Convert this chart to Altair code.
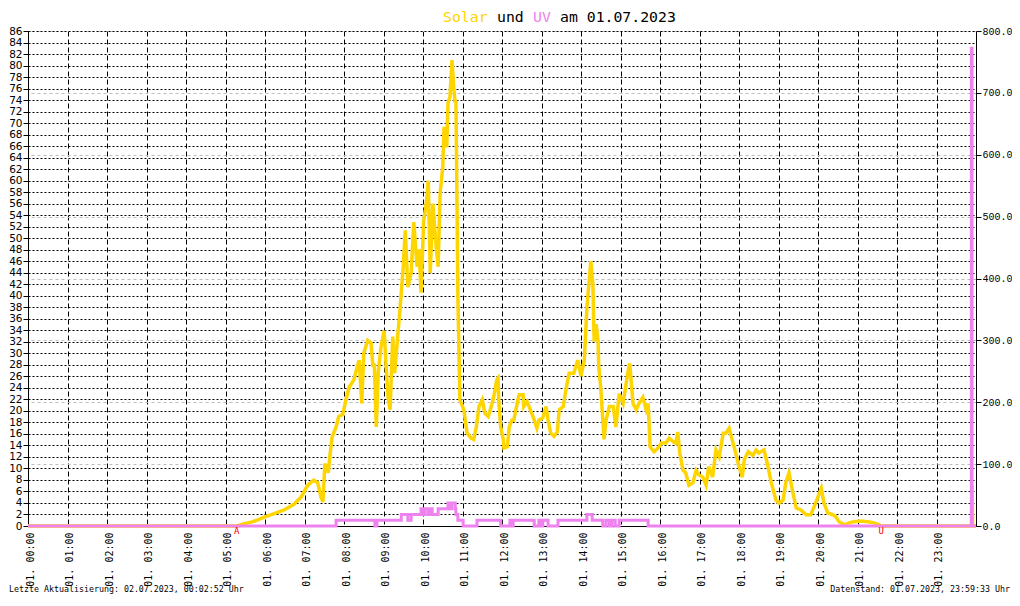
import altair as alt
import pandas as pd

# ---------------- data ----------------
solar_time = [
    "00:00", "05:17", "05:30", "05:42", "05:58", "06:14", "06:29", "06:44", "06:55", "07:05",
    "07:14", "07:20", "07:25", "07:28", "07:31", "07:36", "07:39", "07:42", "07:48", "07:52",
    "07:58", "08:03", "08:08", "08:15", "08:18", "08:23", "08:27", "08:30", "08:36", "08:41",
    "08:44", "08:46", "08:49", "08:52", "08:56", "09:01", "09:04", "09:07", "09:10", "09:14",
    "09:17", "09:22", "09:25", "09:27", "09:30", "09:33", "09:37", "09:42", "09:46", "09:51",
    "09:54", "09:57", "10:01", "10:05", "10:08", "10:11", "10:15", "10:20", "10:23", "10:26",
    "10:30", "10:32", "10:36", "10:38", "10:41", "10:44", "10:47", "10:49", "10:50", "10:52",
    "10:53", "10:56", "11:02", "11:07", "11:13", "11:17", "11:21", "11:25", "11:30", "11:34",
    "11:39", "11:45", "11:48", "11:52", "11:54", "11:55", "11:58", "12:02", "12:03", "12:08",
    "12:11", "12:15", "12:18", "12:23", "12:26", "12:32", "12:33", "12:38", "12:43", "12:49",
    "12:53", "12:56", "13:02", "13:07", "13:10", "13:14", "13:19", "13:24", "13:27", "13:33",
    "13:37", "13:42", "13:49", "13:55", "14:00", "14:05", "14:09", "14:12", "14:15", "14:18",
    "14:20", "14:23", "14:26", "14:27", "14:30", "14:35", "14:38", "14:43", "14:49", "14:53",
    "14:58", "15:04", "15:11", "15:14", "15:19", "15:24", "15:28", "15:34", "15:39", "15:42",
    "15:45", "15:51", "15:57", "16:02", "16:09", "16:14", "16:20", "16:24", "16:27", "16:30",
    "16:35", "16:39", "16:44", "16:50", "16:55", "16:59", "17:05", "17:10", "17:14", "17:20",
    "17:25", "17:30", "17:36", "17:40", "17:45", "17:51", "17:55", "18:00", "18:05", "18:08",
    "18:14", "18:21", "18:26", "18:30", "18:38", "18:43", "18:49", "18:56", "19:01", "19:07",
    "19:11", "19:16", "19:22", "19:27", "19:34", "19:42", "19:49", "19:54", "20:00", "20:05",
    "20:09", "20:15", "20:23", "20:27", "20:32", "20:40", "20:47", "20:55", "21:05", "21:16",
    "21:25", "21:33", "21:36", "23:53", "23:54", "23:55", "24:00",
]
solar_wm2 = [
    0, 0, 4, 7, 14, 20, 26, 35, 47, 66,
    74, 70, 47, 39, 101, 86, 118, 144, 160, 177,
    180, 204, 225, 236, 249, 268, 198, 279, 300, 296,
    257, 263, 160, 247, 288, 316, 257, 208, 188, 306,
    247, 312, 349, 377, 419, 478, 386, 409, 491, 419,
    447, 377, 493, 521, 558, 409, 521, 451, 419, 538,
    580, 645, 612, 684, 694, 753, 704, 684, 688, 484,
    372, 204, 188, 150, 142, 140, 160, 193, 204, 182,
    177, 198, 212, 236, 239, 204, 160, 140, 126, 128,
    160, 171, 171, 198, 212, 212, 193, 201, 188, 171,
    158, 171, 175, 193, 171, 150, 145, 152, 188, 193,
    220, 247, 247, 268, 242, 268, 353, 391, 428, 391,
    298, 326, 298, 257, 223, 140, 171, 193, 193, 160,
    214, 198, 247, 263, 198, 188, 198, 208, 188, 198,
    128, 120, 126, 134, 134, 142, 136, 134, 152, 118,
    90, 86, 66, 70, 90, 83, 79, 66, 96, 79,
    123, 112, 150, 150, 158, 134, 118, 96, 79, 107,
    120, 114, 123, 118, 123, 101, 70, 42, 37, 42,
    70, 86, 53, 29, 26, 18, 18, 31, 47, 61,
    37, 21, 18, 15, 7, 2, 5, 7, 8, 7,
    5, 2, 0, 0, 65, 0, 0,
]

uv_time = [
    "00:00", "07:48", "08:47", "08:50", "09:27", "09:37", "09:42", "09:57", "10:00", "10:03",
    "10:08", "10:11", "10:14", "10:23", "10:38", "10:41", "10:44", "10:49", "10:50", "10:53",
    "11:01", "11:22", "11:58", "12:12", "12:14", "12:17", "12:49", "12:56", "12:59", "13:02",
    "13:10", "13:25", "14:09", "14:17", "14:33", "14:38", "14:43", "14:47", "14:52", "14:58",
    "15:42", "23:53", "23:54", "24:00",
]
uv_index = [
    0, 1, 0, 1, 2, 1, 2, 3, 2, 3,
    2, 3, 2, 3, 4, 3, 4, 3, 2, 1,
    0, 1, 0, 1, 0, 1, 0, 1, 0, 1,
    0, 1, 2, 1, 0, 1, 0, 1, 0, 1,
    0, 83, 0, 0,
]

sun_event_time = ["05:17", "21:36"]
sun_event_label = ["A", "U"]

hour_ticks = list(range(0, 24))
left_ticks = list(range(0, 87, 2))
right_ticks = list(range(0, 801, 100))

assert len(solar_time) == len(solar_wm2)
assert len(uv_time) == len(uv_index)


def to_min(s):
    h, m = s.split(":")
    return int(h) * 60 + int(m)


solar_df = pd.DataFrame({"t": [to_min(s) for s in solar_time], "solar": solar_wm2})
uv_df = pd.DataFrame({"t": [to_min(s) for s in uv_time], "uv": uv_index})
event_df = pd.DataFrame({"t": [to_min(s) for s in sun_event_time], "label": sun_event_label})

GOLD = "#FFD500"
VIOLET = "#EE82EE"
MONO = "DejaVu Sans Mono"

x_enc = alt.X(
    "t:Q",
    scale=alt.Scale(domain=[0, 1440], nice=False, zero=False),
    axis=alt.Axis(
        values=[h * 60 for h in hour_ticks],
        labelExpr="'01. ' + (datum.value < 600 ? '0' : '') + floor(datum.value / 60) + ':00'",
        labelAngle=270,
        labelAlign="right",
        labelBaseline="middle",
        labelFont=MONO,
        labelFontSize=10,
        labelColor="#000000",
        labelPadding=6,
        labelOffset=2,
        labelFlush=False,
        labelOverlap=False,
        ticks=False,
        domainColor="#000000",
        grid=True,
        gridColor="#000000",
        gridDash=[5, 3],
        gridOpacity=1,
        title=None,
    ),
)

solar_line = alt.Chart(solar_df).mark_line(color=GOLD, strokeWidth=3.5, clip=False).encode(
    x=x_enc,
    y=alt.Y(
        "solar:Q",
        scale=alt.Scale(domain=[0, 800], nice=False),
        axis=alt.Axis(
            orient="right",
            values=right_ticks,
            format=".1f",
            labelFont="Liberation Mono",
            labelFontSize=10,
            labelColor="#000000",
            tickColor="#000000",
            tickSize=5,
            labelPadding=1,
            labelFlush=False,
            domainColor="#000000",
            grid=True,
            gridColor="#bdbdbd",
            gridDash=[3, 3],
            gridOpacity=1,
            title=None,
        ),
    ),
)

uv_line = alt.Chart(uv_df).mark_line(color=VIOLET, strokeWidth=3, interpolate="step-after", clip=False).encode(
    x=x_enc,
    y=alt.Y(
        "uv:Q",
        scale=alt.Scale(domain=[0, 86], nice=False),
        axis=alt.Axis(
            orient="left",
            values=left_ticks,
            labelFont="DejaVu Sans",
            labelFontSize=10.5,
            labelColor="#000000",
            tickColor="#000000",
            tickSize=5,
            labelPadding=1,
            labelFlush=False,
            labelOverlap=False,
            domainColor="#000000",
            grid=True,
            gridColor="#000000",
            gridDash=[2, 2],
            gridOpacity=1,
            title=None,
        ),
    ),
)

events = alt.Chart(event_df).mark_text(
    color="#ff0000", font=MONO, fontSize=9, baseline="middle", align="center"
).encode(x=x_enc, y=alt.value(500), text="label:N")


def label(txt, px, py, color="#000000", size=14.8, align="left"):
    return alt.Chart(alt.Data(values=[{}])).mark_text(
        text=txt, color=color, font=MONO, fontSize=size, align=align, baseline="middle"
    ).encode(x=alt.value(px), y=alt.value(py))


TITLE_Y = -13.5
title_parts = [
    label("Solar", 415, TITLE_Y, GOLD),
    label("und", 469, TITLE_Y),
    label("UV", 505, TITLE_Y, VIOLET),
    label("am 01.07.2023", 532, TITLE_Y),
]
footer = [
    label("Letzte Aktualisierung: 02.07.2023, 00:02:52 Uhr", -19, 559, size=8.3),
    label("Datenstand: 01.07.2023, 23:59:33 Uhr", 982, 559, size=8.3, align="right"),
]

chart = (
    alt.layer(solar_line, uv_line, events, *title_parts, *footer)
    .resolve_scale(y="independent")
    .properties(
        width=948,
        height=495,
        autosize=alt.AutoSizeParams(type="none"),
        padding={"left": 20, "top": 23, "right": 36, "bottom": 68},
    )
    .configure(background="white")
    .configure_view(stroke=None)
)

chart.save("out.html", embed_options={"renderer": "svg", "actions": False})
